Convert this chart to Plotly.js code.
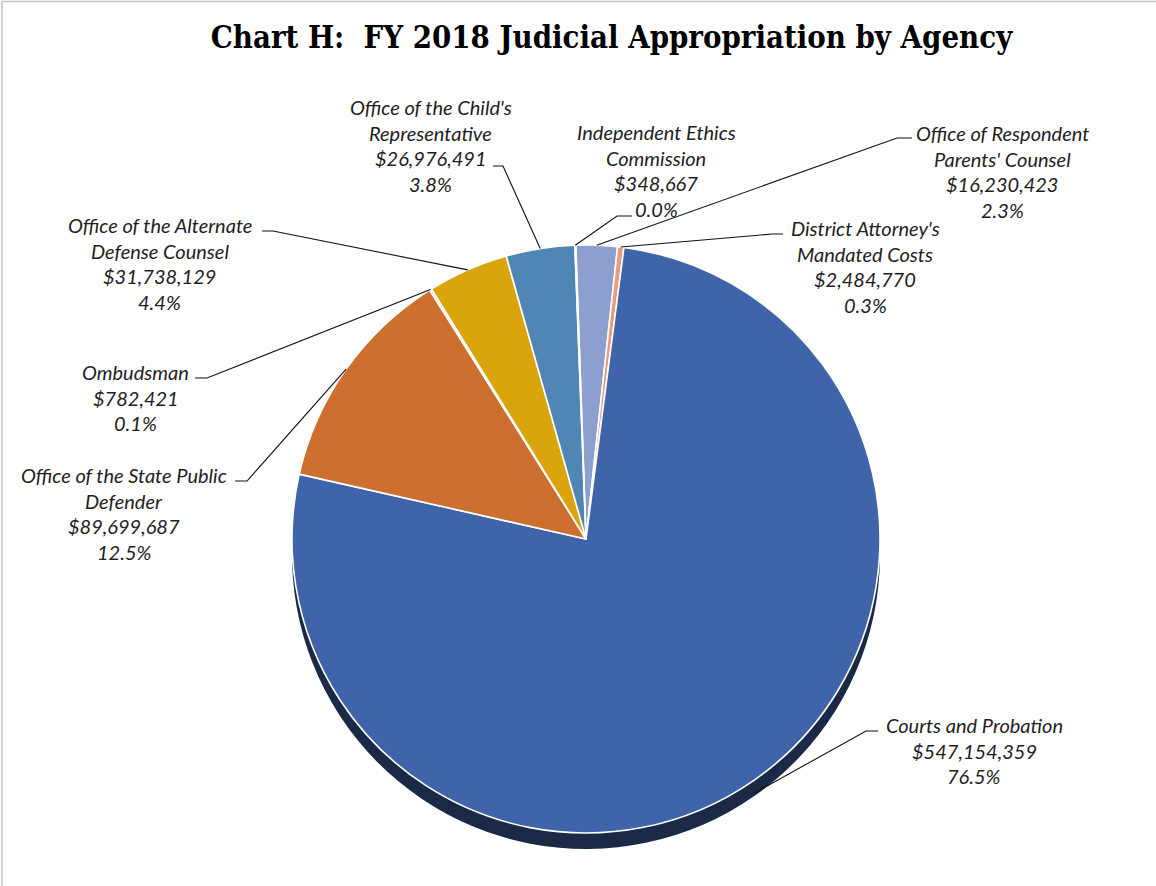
<!DOCTYPE html>
<html><head><meta charset="utf-8">
<script src="https://cdn.plot.ly/plotly-3.0.1.min.js"></script>
<style>html,body{margin:0;padding:0;background:#fff}</style>
</head><body><div id="chart" style="width:1156px;height:886px"></div>
<script>
// ---- data ----
const agencies = ["Office of Respondent Parents' Counsel", "District Attorney's Mandated Costs", "Courts and Probation", "Office of the State Public Defender", "Ombudsman", "Office of the Alternate Defense Counsel", "Office of the Child's Representative", "Independent Ethics Commission"];
const labelLines = [["Office of Respondent", "Parents' Counsel"], ["District Attorney's", "Mandated Costs"], ["Courts and Probation"], ["Office of the State Public", "Defender"], ["Ombudsman"], ["Office of the Alternate", "Defense Counsel"], ["Office of the Child's", "Representative"], ["Independent Ethics", "Commission"]];
const appropriations = [16230423, 2484770, 547154359, 89699687, 782421, 31738129, 26976491, 348667];
const titleText = "Chart H:  FY 2018 Judicial Appropriation by Agency";

// ---- styles / layout positions ----
const sliceColors = ['#8C9FCE', '#E99C7C', '#3F64A9', '#CC6F2F', '#B4B4B4', '#D9A50B', '#5086B6', '#D0D8EA'];
const depthColors = ['#4a5670', '#7a4a35', '#1A2946', '#6a3814', '#666666', '#725708', '#27435f', '#666666'];
const W = 1156, H = 886;
const cx = 586, cy = 539, R = 294, depth = 16, rotationDeg = -2;
const lineGap = 25.7;
const labelPos = [[1002, 133], [865, 228], [974, 725], [124, 475], [135.5, 372], [159.5, 225], [430.5, 107], [656, 132]];
const leaderTick = [[[912, 138], [897, 138]], [[783, 234], [772, 234]], [[878, 731], [866, 731]], [[235, 481], [247, 481]], [[195, 378], [207, 378]], [[262, 231], [273, 231]], [[493, 166], [503, 166]], [[632, 216], [617, 216]]];

const px = x => x / W;
const py = y => 1 - y / H;

const total = appropriations.reduce((a, b) => a + b, 0);
const fmtMoney = v => '$' + v.toLocaleString('en-US');

const domX = [px(cx - R), px(cx + R)];
const domY = [py(cy + R), py(cy - R)];
const domYBack = [py(cy + R + depth), py(cy - R + depth)];

const backPie = {
  type: 'pie', values: appropriations, labels: agencies, sort: false, direction: 'clockwise',
  rotation: rotationDeg, textinfo: 'none', hoverinfo: 'skip',
  marker: {colors: depthColors, line: {width: 0}},
  domain: {x: domX, y: domYBack}
};
const frontPie = {
  type: 'pie', values: appropriations, labels: agencies, sort: false, direction: 'clockwise',
  rotation: rotationDeg, textinfo: 'none', hoverinfo: 'skip',
  marker: {colors: sliceColors, line: {color: '#ffffff', width: 1.6}},
  domain: {x: domX, y: domY}
};

const annotations = [];
const shapes = [];
let cum = 0;
appropriations.forEach((v, i) => {
  const mid = (cum + v / 2) / total;
  cum += v;
  const th = (rotationDeg + mid * 360) * Math.PI / 180;
  const ex = cx + R * Math.sin(th);
  const ey = cy - R * Math.cos(th) + depth * Math.max(0, -Math.cos(th));
  const lines = labelLines[i].concat([fmtMoney(v), (v / total * 100).toFixed(1) + '%']);
  lines.forEach((t, k) => {
    annotations.push({
      xref: 'paper', yref: 'paper', x: px(labelPos[i][0]), y: py(labelPos[i][1] + k * lineGap),
      xanchor: 'center', yanchor: 'middle', showarrow: false, text: t,
      font: {family: 'Lato, "Open Sans", sans-serif', size: 20, style: 'italic', color: '#1e1e1e'}
    });
  });
  const [a, b] = leaderTick[i];
  shapes.push({
    type: 'path', xref: 'paper', yref: 'paper',
    path: `M ${px(a[0])},${py(a[1])} L ${px(b[0])},${py(b[1])} L ${px(ex)},${py(ey)}`,
    line: {color: '#111111', width: 1.1}
  });
});

shapes.push({type: 'rect', xref: 'paper', yref: 'paper', x0: px(2), x1: 1.05, y0: -0.05, y1: py(1.5),
  line: {color: '#c4c4c4', width: 1.5}, fillcolor: 'rgba(0,0,0,0)'});

const layout = {
  width: W, height: H,
  margin: {l: 0, r: 0, t: 0, b: 0},
  paper_bgcolor: '#ffffff',
  showlegend: false,
  title: {
    text: '<b>' + titleText + '</b>',
    font: {family: '"DejaVu Serif Condensed", "DejaVu Serif", serif', size: 30.8, color: '#000000'},
    x: px(611.5), xanchor: 'center', xref: 'paper',
    y: py(37), yanchor: 'middle', yref: 'container'
  },
  annotations: annotations,
  shapes: shapes
};

Plotly.newPlot('chart', [backPie, frontPie], layout, {displayModeBar: false, staticPlot: true});
</script>
</body></html>
